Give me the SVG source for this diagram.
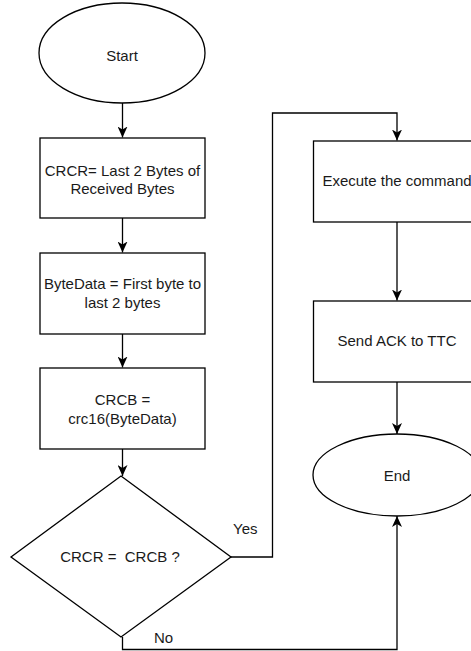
<svg xmlns="http://www.w3.org/2000/svg" width="471" height="651" viewBox="0 0 471 651">
  <defs>
    <marker id="arrow" viewBox="0 0 11 10" markerWidth="11" markerHeight="10" refX="11" refY="5" orient="auto" markerUnits="userSpaceOnUse">
      <path d="M0,0 L11,5 L0,10 L3,5 Z" fill="#000"/>
    </marker>
  </defs>
  <style>
    .shape { fill: #fff; stroke: #000; stroke-width: 1.3; }
    .edge { fill: none; stroke: #000; stroke-width: 1.3; marker-end: url(#arrow); }
    text { font-family: "Liberation Sans", Arial, sans-serif; font-size: 15px; fill: #1a1a1a; }
    .c { text-anchor: middle; }
  </style>
  <rect width="471" height="651" fill="#fff"/>

  <g id="connectors">
    <path class="edge" d="M122.5,103 L122.5,137.5"/>
    <path class="edge" d="M122.5,218 L122.5,252.5"/>
    <path class="edge" d="M122.5,334 L122.5,367.5"/>
    <path class="edge" d="M122.5,449 L122.5,476"/>
    <path class="edge" d="M231,557 L272.5,557 L272.5,113 L397,113 L397,140.5"/>
    <path class="edge" d="M397,222 L397,300.5"/>
    <path class="edge" d="M397,382 L397,434"/>
    <path class="edge" d="M122.5,637 L122.5,649.5 L397,649.5 L397,516"/>
    <text x="233" y="534">Yes</text>
    <text x="154" y="643">No</text>
  </g>

  <g id="start">
    <ellipse class="shape" cx="122" cy="53" rx="83" ry="50"/>
    <text class="c" x="122" y="61">Start</text>
  </g>

  <g id="crcr">
    <rect class="shape" x="40" y="138" width="165" height="80"/>
    <text class="c" x="122.5" y="175.5">CRCR= Last 2 Bytes of</text>
    <text class="c" x="122.5" y="193.5">Received Bytes</text>
  </g>

  <g id="bytedata">
    <rect class="shape" x="40" y="253" width="165" height="81"/>
    <text class="c" x="122.5" y="289">ByteData = First byte to</text>
    <text class="c" x="122.5" y="307.5">last 2 bytes</text>
  </g>

  <g id="crcb">
    <rect class="shape" x="40" y="368" width="165" height="81"/>
    <text class="c" x="122.5" y="404.5">CRCB =</text>
    <text class="c" x="122.5" y="423.5">crc16(ByteData)</text>
  </g>

  <g id="compare">
    <path class="shape" d="M121,476 L231,557 L121,637 L11,557 Z"/>
    <text class="c" x="120" y="562" xml:space="preserve">CRCR =  CRCB ?</text>
  </g>

  <g id="execute">
    <rect class="shape" x="313.5" y="141" width="167" height="81"/>
    <text class="c" x="397" y="186">Execute the command</text>
  </g>

  <g id="send-ack">
    <rect class="shape" x="313.5" y="301" width="167" height="81"/>
    <text class="c" x="397" y="346">Send ACK to TTC</text>
  </g>

  <g id="end">
    <ellipse class="shape" cx="397" cy="475" rx="84" ry="41"/>
    <text class="c" x="397" y="480.5">End</text>
  </g>
</svg>
